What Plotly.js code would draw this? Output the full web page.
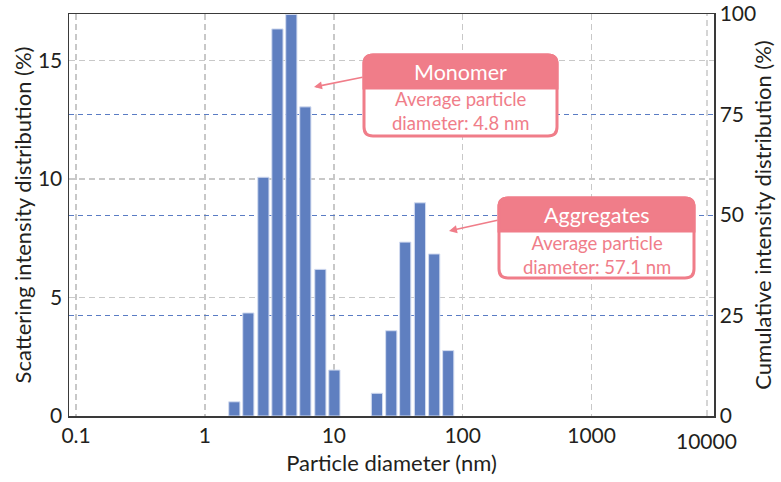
<!DOCTYPE html>
<html>
<head>
<meta charset="utf-8">
<script src="https://cdn.plot.ly/plotly-3.0.1.min.js"></script>
<style>html,body{margin:0;padding:0;background:#fff;}#chart{width:781px;height:482px;}</style>
</head>
<body>
<div id="chart"></div>
<script>
// Particle diameter (nm) at bar centres
const diameters = [1.69, 2.17, 2.84, 3.65, 4.68, 6.01, 7.86, 10.1, 21.6, 27.9, 35.8, 46.6, 60.1, 77.2];
// Scattering intensity distribution (%)
const intensity = [0.60, 4.35, 10.08, 16.34, 16.95, 13.05, 6.19, 1.94, 0.96, 3.60, 7.34, 9.00, 6.84, 2.76];
// x tick values (nm) and labels
const xTickValues = [0.1, 1, 10, 100, 1000];
const xTickLabels = ['0.1', '1', '10', '100', '1000'];
const lastTickLabel = '10000';
// left / right axis ticks
const yTicks = [0, 5, 10, 15];
const y2Ticks = [0, 25, 50, 75, 100];
// annotation texts
const monomerTitle = 'Monomer';
const monomerText = ['Average particle', 'diameter: 4.8 nm'];
const aggTitle = 'Aggregates';
const aggText = ['Average particle', 'diameter: 57.1 nm'];

const W = 781, H = 482;
const L = 69, R = 714, T = 14, B = 416;
const pw = R - L, ph = B - T;
const fx = p => (p - L) / pw;
const fy = p => (B - p) / ph;

const pink = '#f07d89';
const textCol = '#231f20';
const FONT = 'Lato, "Liberation Sans", sans-serif';
const TICK = 21, TITLE = 22;

function roundRect(x0, y0, x1, y1, r, topOnly) {
  const rx = r / pw, ry = r / ph;
  const X0 = fx(x0), X1 = fx(x1), Y0 = fy(y0), Y1 = fy(y1);
  let p = `M${X0},${Y1 + (topOnly ? 0 : ry)} L${X0},${Y0 - ry} Q${X0},${Y0} ${X0 + rx},${Y0} L${X1 - rx},${Y0} Q${X1},${Y0} ${X1},${Y0 - ry}`;
  if (topOnly) {
    p += ` L${X1},${Y1} Z`;
  } else {
    p += ` L${X1},${Y1 + ry} Q${X1},${Y1} ${X1 - rx},${Y1} L${X0 + rx},${Y1} Q${X0},${Y1} ${X0},${Y1 + ry} Z`;
  }
  return p;
}

const logX = diameters.map(d => Math.log10(d));

const trace = {
  type: 'bar',
  x: logX,
  y: intensity,
  width: 0.087,
  marker: {color: '#5f7fc0', line: {color: '#d3dcf0', width: 1}},
  hoverinfo: 'skip',
  showlegend: false
};
const trace2 = {
  type: 'scatter', mode: 'markers', x: [logX[0]], y: [0], yaxis: 'y2',
  marker: {opacity: 0}, hoverinfo: 'skip', showlegend: false
};

const shapes = [
  {type: 'line', xref: 'paper', yref: 'paper', x0: fx(707), x1: fx(707), y0: 0, y1: 1,
   line: {color: '#c8c8c8', width: 1.5, dash: '6px,4px'}, layer: 'below'},
  {type: 'path', xref: 'paper', yref: 'paper', path: roundRect(364, 55, 557, 136, 9, false),
   fillcolor: '#ffffff', line: {color: pink, width: 3}},
  {type: 'path', xref: 'paper', yref: 'paper', path: roundRect(364, 55, 557, 88, 9, true),
   fillcolor: pink, line: {color: pink, width: 3}},
  {type: 'path', xref: 'paper', yref: 'paper', path: roundRect(499, 198, 694, 278, 9, false),
   fillcolor: '#ffffff', line: {color: pink, width: 3}},
  {type: 'path', xref: 'paper', yref: 'paper', path: roundRect(499, 198, 694, 231, 9, true),
   fillcolor: pink, line: {color: pink, width: 3}}
];

const annotations = [
  {xref: 'paper', yref: 'paper', x: fx(460.5), y: fy(72), text: monomerTitle, showarrow: false,
   font: {family: FONT, size: 21.5, color: '#ffffff'}, xanchor: 'center', yanchor: 'middle'},
  {xref: 'paper', yref: 'paper', x: fx(460.5), y: fy(111.5), text: monomerText.join('<br>'), showarrow: false,
   font: {family: FONT, size: 18.5, color: pink}, xanchor: 'center', yanchor: 'middle'},
  {xref: 'paper', yref: 'paper', x: fx(596.5), y: fy(215), text: aggTitle, showarrow: false,
   font: {family: FONT, size: 21.5, color: '#ffffff'}, xanchor: 'center', yanchor: 'middle'},
  {xref: 'paper', yref: 'paper', x: fx(596.5), y: fy(254.5), text: aggText.join('<br>'), showarrow: false,
   font: {family: FONT, size: 18.5, color: pink}, xanchor: 'center', yanchor: 'middle'},
  {xref: 'paper', yref: 'paper', x: fx(314), y: fy(87), text: '', showarrow: true,
   ax: 50, ay: -10, arrowcolor: pink, arrowwidth: 1.6, arrowhead: 2, arrowsize: 1},
  {xref: 'paper', yref: 'paper', x: fx(449), y: fy(231), text: '', showarrow: true,
   ax: 50, ay: -11, arrowcolor: pink, arrowwidth: 1.6, arrowhead: 2, arrowsize: 1},
  {xref: 'paper', yref: 'paper', x: fx(706), y: fy(440), text: lastTickLabel, showarrow: false,
   font: {family: FONT, size: TICK, color: textCol}, xanchor: 'center', yanchor: 'middle'}
];

const layout = {
  width: W, height: H,
  margin: {l: L, r: W - R, t: T, b: H - B, pad: 0},
  paper_bgcolor: '#ffffff', plot_bgcolor: '#ffffff',
  font: {family: FONT, color: textCol},
  bargap: 0,
  xaxis: {
    type: 'linear', range: [-1.055, 3.95],
    tickvals: xTickValues.map(v => Math.log10(v)), ticktext: xTickLabels,
    tickfont: {family: FONT, size: TICK, color: textCol},
    ticks: '', showgrid: true, gridcolor: '#c8c8c8', gridwidth: 1.5, griddash: '6px,4px',
    zeroline: false, showline: true, linecolor: '#3a3a3a', linewidth: 1.5, mirror: true,
    title: {text: 'Particle diameter (nm)', font: {family: FONT, size: TITLE, color: textCol}, standoff: 10}
  },
  yaxis: {
    range: [0, 16.97], tickvals: yTicks,
    tickfont: {family: FONT, size: TICK, color: textCol},
    ticks: '', ticklabelstandoff: 1, showgrid: true, gridcolor: '#c8c8c8', gridwidth: 1.5, griddash: '6px,4px',
    zeroline: false, showline: true, linecolor: '#3a3a3a', linewidth: 1.5, mirror: true,
    title: {text: 'Scattering intensity distribution (%)', font: {family: FONT, size: TITLE, color: textCol}, standoff: 0}
  },
  yaxis2: {
    overlaying: 'y', side: 'right', range: [0, 100.02], tickvals: y2Ticks,
    tickfont: {family: FONT, size: TICK, color: textCol}, ticklabeloverflow: 'allow',
    ticks: '', showgrid: true, gridcolor: '#5a7cc4', gridwidth: 1, griddash: '5px,4px',
    zeroline: false, showline: true, linecolor: '#3a3a3a', linewidth: 1.5,
    title: {text: 'Cumulative intensity distribution (%)', font: {family: FONT, size: TITLE, color: textCol}, standoff: 0}
  },
  shapes: shapes,
  annotations: annotations
};

Plotly.newPlot('chart', [trace, trace2], layout, {staticPlot: true, displayModeBar: false});
</script>
</body>
</html>
